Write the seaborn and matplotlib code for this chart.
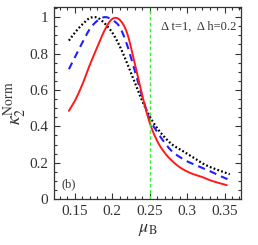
import matplotlib
matplotlib.use("Agg")
import matplotlib.pyplot as plt
import seaborn as sns
import pandas as pd
import numpy as np
from matplotlib.ticker import MultipleLocator

sns.set_theme(style="ticks")
plt.rcParams['font.family'] = ['Liberation Serif', 'DejaVu Serif']
plt.rcParams['mathtext.fontset'] = 'stix'

red_x = [0.142, 0.15, 0.16, 0.17, 0.18, 0.19, 0.20, 0.21, 0.22, 0.23, 0.24, 0.25,
         0.26, 0.27, 0.28, 0.29, 0.30, 0.31, 0.32, 0.33, 0.34, 0.353]
red_y = [0.485, 0.54, 0.63, 0.738, 0.835, 0.93, 0.99, 0.985, 0.91, 0.745, 0.57, 0.42,
         0.32, 0.255, 0.21, 0.176, 0.152, 0.135, 0.122, 0.105, 0.092, 0.077]
blue_x = [0.142, 0.15, 0.16, 0.17, 0.18, 0.19, 0.20, 0.21, 0.22, 0.23, 0.24, 0.25,
          0.26, 0.27, 0.28, 0.29, 0.30, 0.31, 0.32, 0.33, 0.34, 0.354]
blue_y = [0.714, 0.78, 0.86, 0.935, 0.98, 1.0, 0.985, 0.945, 0.845, 0.705, 0.565, 0.44,
          0.37, 0.31, 0.262, 0.232, 0.208, 0.19, 0.173, 0.155, 0.135, 0.11]
black_x = [0.142, 0.15, 0.16, 0.17, 0.18, 0.19, 0.20, 0.21, 0.22, 0.23, 0.24, 0.25,
           0.26, 0.27, 0.28, 0.29, 0.30, 0.31, 0.32, 0.33, 0.34, 0.357]
black_y = [0.871, 0.915, 0.96, 0.995, 0.997, 0.965, 0.915, 0.84, 0.745, 0.64, 0.54, 0.455,
           0.39, 0.34, 0.30, 0.275, 0.25, 0.225, 0.198, 0.178, 0.162, 0.137]
vline_x = 0.25
x_ticks = [0.15, 0.2, 0.25, 0.3, 0.35]
x_tick_labels = ["0.15", "0.2", "0.25", "0.3", "0.35"]
y_ticks = [0, 0.2, 0.4, 0.6, 0.8, 1]
y_tick_labels = ["0", "0.2", "0.4", "0.6", "0.8", "1"]


def smooth(xs, ys, sub=16):
    """Uniform Catmull-Rom spline through the read points."""
    P = np.column_stack([np.asarray(xs, float), np.asarray(ys, float)])
    P = np.vstack([P[0] - (P[1] - P[0]), P, P[-1] + (P[-1] - P[-2])])
    out = []
    for i in range(1, len(P) - 2):
        p0, p1, p2, p3 = P[i - 1], P[i], P[i + 1], P[i + 2]
        for t in np.linspace(0, 1, sub, endpoint=False):
            t2, t3 = t * t, t * t * t
            out.append(0.5 * ((2 * p1) + (-p0 + p2) * t + (2 * p0 - 5 * p1 + 4 * p2 - p3) * t2
                              + (-p0 + 3 * p1 - 3 * p2 + p3) * t3))
    out.append(P[-2])
    out = np.array(out)
    return out[:, 0], out[:, 1]


fig = plt.figure(figsize=(2.58, 2.45), dpi=100)
ax = fig.add_axes([0.209, 0.187, 0.725, 0.784])

for xs, ys, col, ls, lw in [(black_x, black_y, "black", (0, (0.8, 1.0)), 1.6),
                            (blue_x, blue_y, "#1f1fff", (0, (3.5, 2.5)), 1.5),
                            (red_x, red_y, "#ff1a1a", "-", 1.4)]:
    sx, sy = smooth(xs, ys)
    df = pd.DataFrame({"x": sx, "y": sy})
    sns.lineplot(data=df, x="x", y="y", ax=ax, color=col, lw=lw, linestyle=ls, sort=False,
                 estimator=None)

ax.axvline(vline_x, color="#33ee33", lw=1.0, linestyle=(0, (2.5, 1.8)))

ax.set_xlim(0.122, 0.372)
ax.set_ylim(0, 1.055)
ax.set_xticks(x_ticks)
ax.set_xticklabels(x_tick_labels)
ax.set_yticks(y_ticks)
ax.set_yticklabels(y_tick_labels)
ax.xaxis.set_minor_locator(MultipleLocator(0.01))
ax.yaxis.set_minor_locator(MultipleLocator(0.05))
ax.tick_params(which="both", direction="in", top=True, right=True, colors="#333333",
               labelcolor="#333333", labelsize=11, width=0.8)
ax.tick_params(which="major", length=4, pad=4)
ax.tick_params(which="minor", length=2)
for s in ax.spines.values():
    s.set_linewidth(0.9)
    s.set_color("#333333")

ax.set_xlabel(r"$\mu_{\mathrm{B}}$", fontsize=13, color="#333333", labelpad=2)
ax.set_ylabel(r"$\kappa_2^{\mathrm{Norm}}$", fontsize=14, color="#333333", labelpad=0)

ax.text(0.975, 0.9, "Δ t=1,  Δ h=0.2", transform=ax.transAxes, ha="right", va="center",
        fontsize=9, color="#333333")
ax.text(0.04, 0.075, "(b)", transform=ax.transAxes, ha="left", va="center",
        fontsize=9, color="#333333")

fig.savefig("out.png", dpi=100)
